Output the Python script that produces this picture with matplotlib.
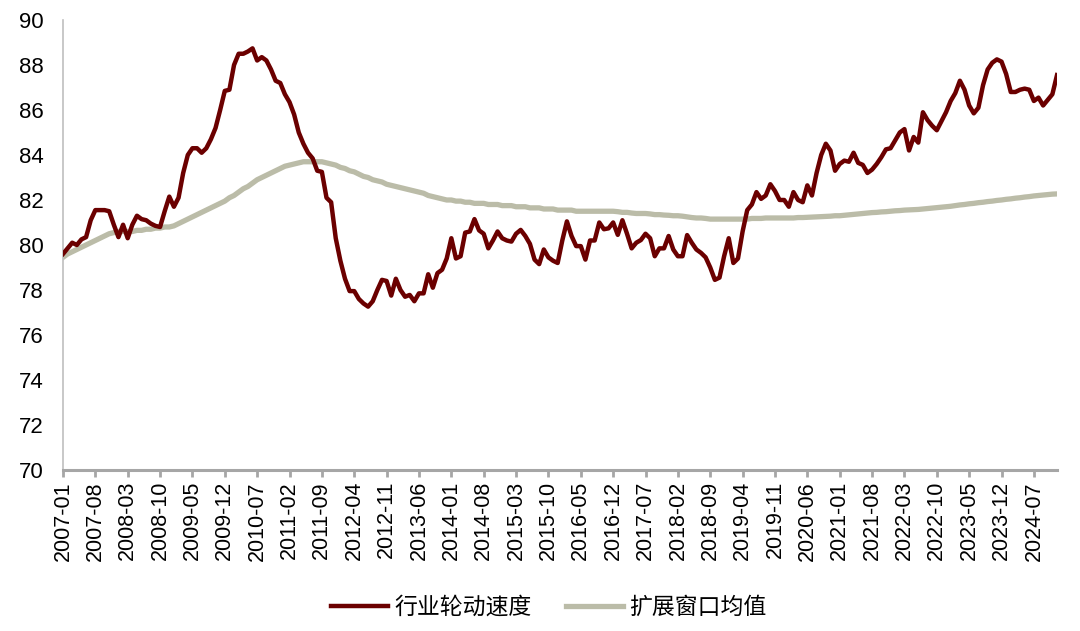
import numpy as np
import pandas as pd
import matplotlib.pyplot as plt

plt.rcParams['font.family'] = ['Liberation Sans', 'Noto Sans CJK SC', 'DejaVu Sans']

months = pd.period_range("2007-01", "2024-12", freq="M").strftime("%Y-%m").tolist()

speed = [
    79.6, 79.85, 80.1, 80.0, 80.25, 80.35, 81.1, 81.55, 81.55, 81.55,
    81.5, 80.9, 80.35, 80.9, 80.3, 80.9, 81.3, 81.15, 81.1, 80.95,
    80.85, 80.8, 81.5, 82.15, 81.7, 82.1, 83.2, 84.0, 84.3, 84.3,
    84.1, 84.3, 84.7, 85.2, 86.0, 86.85, 86.9, 88.0, 88.5, 88.5,
    88.6, 88.74, 88.2, 88.35, 88.2, 87.8, 87.3, 87.2, 86.7, 86.35,
    85.8, 85.0, 84.5, 84.1, 83.85, 83.3, 83.25, 82.1, 81.9, 80.3,
    79.3, 78.5, 77.95, 77.95, 77.6, 77.4, 77.26, 77.5, 78.0, 78.45,
    78.4, 77.75, 78.5, 78.0, 77.7, 77.78, 77.5, 77.85, 77.85, 78.7,
    78.1, 78.75, 78.9, 79.4, 80.3, 79.4, 79.5, 80.55, 80.6, 81.15,
    80.65, 80.5, 79.85, 80.2, 80.6, 80.3, 80.2, 80.15, 80.5, 80.67,
    80.4, 80.05, 79.35, 79.15, 79.8, 79.45, 79.3, 79.2, 80.2, 81.05,
    80.4, 79.95, 79.95, 79.35, 80.2, 80.2, 81.0, 80.7, 80.74, 81.0,
    80.45, 81.1, 80.5, 79.85, 80.1, 80.22, 80.5, 80.3, 79.5, 79.85,
    79.85, 80.4, 79.8, 79.5, 79.5, 80.44, 80.1, 79.8, 79.65, 79.45,
    79.0, 78.45, 78.55, 79.5, 80.3, 79.2, 79.4, 80.6, 81.55, 81.8,
    82.35, 82.05, 82.2, 82.7, 82.4, 82.0, 82.0, 81.7, 82.35, 82.0,
    81.9, 82.65, 82.2, 83.2, 84.0, 84.5, 84.2, 83.3, 83.6, 83.75,
    83.7, 84.1, 83.65, 83.56, 83.2, 83.35, 83.6, 83.9, 84.25, 84.3,
    84.65, 85.0, 85.15, 84.2, 84.8, 84.55, 85.9, 85.55, 85.3, 85.1,
    85.5, 85.9, 86.4, 86.75, 87.3, 86.9, 86.2, 85.85, 86.1, 87.1,
    87.8, 88.1, 88.25, 88.15, 87.6, 86.8, 86.8, 86.9, 86.95, 86.9,
    86.4, 86.55, 86.2, 86.45, 86.7, 87.55,
]

mean_exp = [
    79.45, 79.6, 79.7, 79.8, 79.9, 80.0, 80.1, 80.2, 80.3, 80.4,
    80.5, 80.55, 80.6, 80.6, 80.6, 80.6, 80.65, 80.65, 80.7, 80.7,
    80.75, 80.75, 80.8, 80.8, 80.85, 80.95, 81.05, 81.15, 81.25, 81.35,
    81.45, 81.55, 81.65, 81.75, 81.85, 81.95, 82.1, 82.2, 82.35, 82.5,
    82.6, 82.75, 82.9, 83.0, 83.1, 83.2, 83.3, 83.4, 83.5, 83.55,
    83.6, 83.65, 83.7, 83.7, 83.7, 83.7, 83.7, 83.65, 83.6, 83.55,
    83.45, 83.4, 83.3, 83.25, 83.15, 83.05, 83.0, 82.9, 82.85, 82.8,
    82.7, 82.65, 82.6, 82.55, 82.5, 82.45, 82.4, 82.35, 82.3, 82.2,
    82.15, 82.1, 82.05, 82.0, 82.0, 81.95, 81.95, 81.9, 81.9, 81.85,
    81.85, 81.85, 81.8, 81.8, 81.8, 81.75, 81.75, 81.75, 81.7, 81.7,
    81.7, 81.65, 81.65, 81.65, 81.6, 81.6, 81.6, 81.55, 81.55, 81.55,
    81.55, 81.5, 81.5, 81.5, 81.5, 81.5, 81.5, 81.5, 81.5, 81.5,
    81.48, 81.45, 81.45, 81.42, 81.4, 81.4, 81.4, 81.38, 81.35, 81.35,
    81.33, 81.32, 81.3, 81.3, 81.28, 81.25, 81.22, 81.2, 81.2, 81.18,
    81.15, 81.15, 81.15, 81.15, 81.15, 81.15, 81.15, 81.15, 81.15, 81.18,
    81.18, 81.18, 81.2, 81.2, 81.2, 81.2, 81.2, 81.2, 81.2, 81.22,
    81.22, 81.23, 81.24, 81.25, 81.26, 81.27, 81.28, 81.3, 81.3, 81.32,
    81.34, 81.36, 81.38, 81.4, 81.42, 81.44, 81.45, 81.47, 81.48, 81.5,
    81.52, 81.53, 81.55, 81.56, 81.57, 81.58, 81.6, 81.62, 81.64, 81.66,
    81.68, 81.7, 81.72, 81.75, 81.78, 81.8, 81.83, 81.85, 81.88, 81.9,
    81.93, 81.95, 81.98, 82.0, 82.03, 82.05, 82.08, 82.1, 82.13, 82.15,
    82.18, 82.2, 82.22, 82.24, 82.26, 82.27,
]

x = np.arange(len(months))

fig = plt.figure(figsize=(10.8, 6.31), dpi=100)
ax = fig.add_axes([0.0583, 0.2552, 0.9204, 0.7131])

ax.plot(x, speed, color="#6B0000", lw=3.2, label="行业轮动速度", zorder=3,
        solid_joinstyle="round")
ax.plot(x, mean_exp, color="#BBBCA8", lw=3.8, label="扩展窗口均值", zorder=2)

ax.set_xlim(0, len(months) - 1)
ax.set_ylim(70, 90)
ax.set_yticks(range(70, 91, 2))
ax.tick_params(axis="y", length=0, pad=14, labelsize=16, colors="#000000")

ax.set_xticks(x[::7])
ax.set_xticklabels(months[::7], rotation=90, fontsize=15.5)
ax.tick_params(axis="x", length=5, width=2, color="#A6A6A6", pad=3)

for s in ["top", "right"]:
    ax.spines[s].set_visible(False)
ax.spines["left"].set_color("#BFBFBF")
ax.spines["left"].set_linewidth(1.2)
ax.spines["bottom"].set_color("#A6A6A6")
ax.spines["bottom"].set_linewidth(2.2)

fig.legend(loc="center", bbox_to_anchor=(0.508, 0.038), ncol=2, frameon=False,
           prop={"family": ["Noto Sans CJK SC", "DejaVu Sans"], "size": 16.5},
           handlelength=2.5, columnspacing=1.5, handletextpad=0.25)

fig.savefig("out.png", dpi=100)
